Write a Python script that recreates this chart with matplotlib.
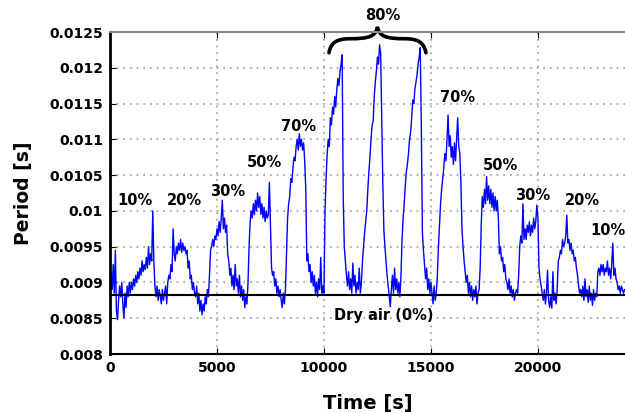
import numpy as np
import matplotlib
matplotlib.use("Agg")
import matplotlib.pyplot as plt
from matplotlib.path import Path
from matplotlib.patches import PathPatch

# sampling step of the trace [s]
dt = 50

# period, in ms, one row per 1000 s
period_ms = [
    8.95, 9.15, 8.9, 9.25, 8.85, 9.45, 8.6, 8.48, 8.75, 8.95, 8.8, 9.0, 8.7, 8.5, 8.85, 8.65, 8.95, 8.8, 9.0, 8.85,
    9.0, 8.9, 9.05, 8.95, 9.1, 9.0, 9.15, 9.05, 9.2, 9.1, 9.3, 9.15, 9.25, 9.18, 9.35, 9.2, 9.5, 9.25, 9.4, 9.3,
    10.0, 9.3, 8.95, 8.8, 8.95, 8.75, 8.9, 8.8, 8.7, 8.9, 8.75, 8.85, 8.95, 8.7, 9.0, 9.1, 9.05, 9.25, 9.15, 9.75,
    9.4, 9.3, 9.5, 9.4, 9.55, 9.45, 9.6, 9.42, 9.55, 9.45, 9.5, 9.4, 9.45, 9.2, 9.3, 9.05, 9.1, 8.9, 9.0, 8.85,
    8.8, 8.95, 8.7, 8.85, 8.6, 8.75, 8.55, 8.7, 8.6, 8.8, 8.7, 8.9, 8.8, 9.1, 9.45, 9.5, 9.6, 9.5, 9.65, 9.6,
    9.75, 9.65, 9.85, 9.7, 9.9, 10.15, 9.75, 9.9, 9.7, 9.8, 9.4, 9.3, 9.1, 9.2, 8.95, 9.1, 8.9, 9.25, 8.95, 9.05,
    8.85, 9.1, 8.8, 8.95, 8.75, 8.9, 8.65, 8.8, 8.7, 9.0, 9.5, 9.85, 10.0, 9.9, 10.1, 9.95, 10.15, 10.0, 10.25, 10.05,
    10.2, 9.95, 10.1, 9.9, 10.05, 9.85, 10.0, 9.9, 9.95, 10.4, 9.8, 9.2, 9.1, 9.15, 8.95, 9.05, 8.85, 8.95, 8.8, 8.9,
    8.75, 8.65, 8.85, 8.7, 8.9, 9.4, 9.9, 10.1, 10.2, 10.45, 10.4, 10.6, 10.75, 10.7, 10.9, 11.0, 10.85, 11.08, 10.9, 11.0,
    10.85, 10.95, 10.7, 10.3, 9.3, 9.4, 9.15, 9.25, 9.0, 9.15, 8.95, 9.1, 8.85, 9.0, 8.8, 9.05, 8.9, 9.35, 8.85, 8.95,
    8.85, 10.0, 10.45, 10.8, 11.0, 10.9, 11.3, 11.2, 11.45, 11.35, 11.6, 11.45, 11.7, 11.85, 11.75, 11.95, 12.05, 12.18, 10.2, 9.5,
    9.3, 9.1, 8.95, 9.15, 8.9, 9.05, 8.85, 9.27, 8.95, 9.1, 8.85, 9.0, 8.9, 9.2, 8.85, 9.0, 9.3, 9.5, 9.7, 9.85,
    10.0, 10.3, 10.55, 10.75, 11.0, 11.2, 11.25, 11.6, 11.8, 11.95, 12.15, 12.05, 12.32, 12.2, 11.3, 10.4, 9.73, 9.5, 9.3, 9.1,
    8.95, 8.8, 8.66, 8.9, 9.1, 8.85, 9.2, 8.9, 9.05, 8.85, 9.0, 8.8, 9.1, 9.6, 9.9, 10.1, 10.35, 10.55, 10.65, 10.8,
    11.0, 11.1, 11.3, 11.55, 11.5, 11.7, 11.8, 11.9, 12.05, 12.15, 12.28, 11.2, 9.7, 9.45, 9.25, 9.05, 9.2, 8.9, 9.05, 8.85,
    9.0, 8.85, 8.7, 8.95, 8.75, 8.85, 9.1, 9.5, 9.8, 10.1, 10.3, 10.45, 10.6, 10.8, 10.7, 11.0, 11.34, 10.9, 11.05, 10.75,
    10.9, 10.65, 10.95, 10.7, 11.0, 11.3, 10.9, 10.8, 10.4, 9.75, 9.5, 9.3, 9.15, 9.0, 9.1, 8.85, 9.0, 8.8, 8.95, 8.75,
    8.9, 8.8, 8.95, 8.7, 8.85, 8.9, 9.2, 9.8, 10.2, 10.05, 10.3, 10.1, 10.48, 10.15, 10.35, 10.1, 10.3, 10.05, 10.25, 10.0,
    10.2, 10.0, 10.15, 9.9, 9.4, 9.5, 9.3, 9.35, 9.15, 9.25, 9.05, 9.0, 8.9, 9.05, 8.85, 8.95, 8.8, 8.9, 8.75, 8.85,
    8.9, 8.85, 9.1, 9.5, 9.65, 9.55, 10.1, 9.6, 9.75, 9.6, 9.8, 9.7, 9.85, 9.65, 9.8, 9.7, 9.9, 9.75, 9.85, 10.08,
    9.9, 9.2, 9.05, 8.95, 8.85, 8.75, 8.9, 8.7, 8.85, 9.17, 8.75, 8.65, 8.8, 8.64, 9.15, 8.75, 8.85, 8.7, 8.9, 9.3,
    9.35, 9.45, 9.4, 9.6, 9.5, 9.55, 9.65, 9.94, 9.55, 9.6, 9.45, 9.55, 9.4, 9.45, 9.3, 9.35, 9.2, 9.1, 8.95, 8.85,
    8.9, 8.8, 8.95, 8.75, 9.05, 8.8, 8.9, 8.72, 8.95, 8.75, 8.85, 8.68, 8.9, 8.75, 8.85, 8.8, 9.15, 9.2, 9.1, 9.25,
    9.15, 9.25, 9.1, 9.2, 9.15, 9.3, 9.1, 9.2, 9.05, 9.25, 9.55, 9.1, 9.2, 9.05, 9.0, 8.9, 8.95, 8.85, 8.95, 8.9,
    8.85, 8.9,
]

dry_air = 0.00882

# humidity labels: (text, time, period)
labels = [
    ("10%", 1170, 0.01015), ("20%", 3500, 0.01014), ("30%", 5510, 0.01027),
    ("50%", 7240, 0.01067), ("70%", 8830, 0.01118), ("80%", 12760, 0.01273),
    ("70%", 16260, 0.01159), ("50%", 18270, 0.01064), ("30%", 19770, 0.01021),
    ("20%", 22100, 0.01015),
]

period = np.array(period_ms) / 1000.0
time = np.arange(len(period)) * dt

fig = plt.figure(figsize=(6.25, 4.13), dpi=100)
ax = fig.add_axes([110/625, 1 - 354/413, 515/625, 322/413])

ax.plot(time, period, color='#0000ff', lw=1.0)
ax.axhline(dry_air, color='black', lw=1.5)

ax.set_xlim(0, 24070)
ax.set_ylim(0.008, 0.0125)
ax.set_xticks(np.arange(0, 24000, 5000))
ax.set_yticks(np.arange(0.008, 0.01251, 0.0005))
ax.set_yticklabels(['0.008', '0.0085', '0.009', '0.0095', '0.01', '0.0105',
                    '0.011', '0.0115', '0.012', '0.0125'])
ax.grid(True, color='#999999', linestyle=(0, (1, 3)), lw=1.2)
ax.tick_params(direction='in', length=4, top=True, right=False,
               labelsize=10, pad=5)
for lab in ax.get_xticklabels() + ax.get_yticklabels():
    lab.set_fontweight('bold')

ax.spines['right'].set_visible(False)
ax.spines['top'].set_color('#888888')
ax.spines['top'].set_linewidth(1.5)
ax.spines['left'].set_linewidth(2)
ax.spines['bottom'].set_linewidth(1.5)

ax.set_xlabel('Time [s]', fontsize=14, fontweight='bold', labelpad=14)
ax.set_ylabel('Period [s]', fontsize=13.5, fontweight='bold', labelpad=12)

for txt, tx, ty in labels:
    ax.text(tx, ty, txt, ha='center', va='center', fontsize=10.5,
            fontweight='bold', clip_on=False)
# last label sits at the right edge, kept just inside the figure
ax.text(22430, 0.00973, "10%", ha='left', va='center', fontsize=10.5,
        fontweight='bold', clip_on=False)
ax.text(12800, 0.008545, "Dry air (0%)", ha='center', va='center',
        fontsize=10.5, fontweight='bold')

# curly brace over the three 80% pulses
yb, yc, ya, yt = 0.01221, 0.012364, 0.012406, 0.012573
verts = [(10234, yb), (10327, yc), (10654, ya), (11215, ya),
         (12056, ya), (12430, 0.012434), (12500, yt),
         (12570, 0.012434), (12944, ya), (13785, ya),
         (14346, ya), (14673, yc), (14766, yb)]
codes = [Path.MOVETO, Path.CURVE4, Path.CURVE4, Path.CURVE4,
         Path.CURVE4, Path.CURVE4, Path.CURVE4,
         Path.CURVE4, Path.CURVE4, Path.CURVE4,
         Path.CURVE4, Path.CURVE4, Path.CURVE4]
ax.add_patch(PathPatch(Path(verts, codes), fill=False, lw=2.6,
                       color='black', clip_on=False, capstyle='round'))

fig.savefig('out.png', dpi=100)
